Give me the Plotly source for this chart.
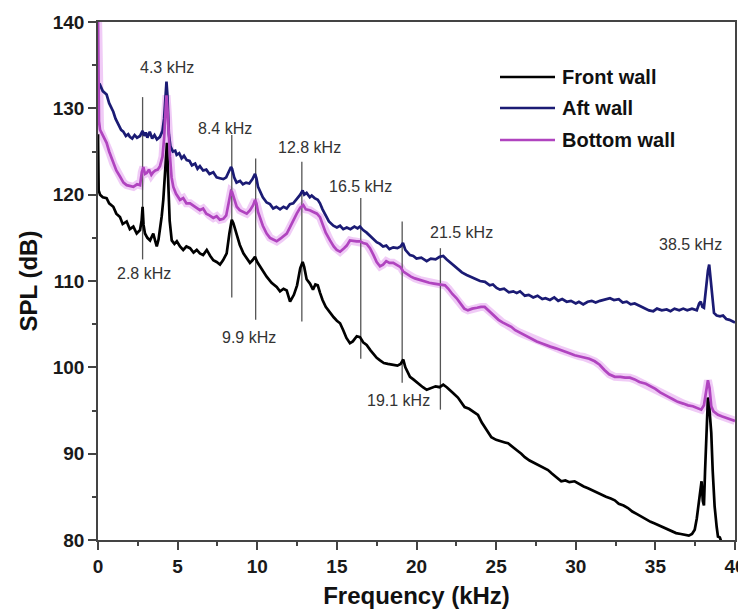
import plotly.graph_objects as go

# ---- spectra (frequency in kHz, SPL in dB) ----
front_f = [0.0, 0.04, 0.13, 0.3, 0.54, 0.7, 0.96, 1.15, 1.38, 1.55, 1.8, 2.0, 2.22, 2.43, 2.64, 2.74, 2.8, 2.86,
           2.95, 3.1, 3.27, 3.47, 3.6, 3.69, 3.8, 3.89, 4.0, 4.1, 4.2, 4.28, 4.33, 4.4, 4.5, 4.63, 4.8, 4.95, 5.15,
           5.35, 5.55, 5.78, 6.0, 6.2, 6.4, 6.6, 6.83, 7.05, 7.24, 7.45, 7.66, 7.85, 8.08, 8.25, 8.4, 8.5, 8.71,
           8.9, 9.13, 9.35, 9.54, 9.7, 9.86, 10.0, 10.17, 10.4, 10.59, 10.9, 11.22, 11.43, 11.65, 11.85, 12.06,
           12.3, 12.5, 12.7, 12.85, 12.95, 13.1, 13.31, 13.5, 13.65, 13.8, 13.95, 14.1, 14.3, 14.57, 14.8, 15.0,
           15.2, 15.4, 15.6, 15.82, 16.0, 16.25, 16.45, 16.65, 16.87, 17.1, 17.3, 17.5, 17.71, 17.95, 18.2, 18.54,
           18.8, 19.0, 19.17, 19.3, 19.59, 19.8, 20.1, 20.4, 20.64, 20.9, 21.2, 21.45, 21.68, 21.9, 22.1, 22.31,
           22.6, 22.85, 23.02, 23.3, 23.6, 23.86, 24.1, 24.4, 24.7, 25.0, 25.3, 25.55, 25.75, 26.0, 26.3, 26.58,
           26.8, 27.1, 27.42, 27.7, 28.0, 28.26, 28.5, 28.8, 29.09, 29.35, 29.6, 29.93, 30.2, 30.5, 30.77, 31.0,
           31.3, 31.6, 31.9, 32.2, 32.45, 32.7, 33.0, 33.28, 33.55, 33.85, 34.12, 34.4, 34.7, 34.96, 35.2, 35.5,
           35.79, 36.05, 36.3, 36.6, 36.84, 37.1, 37.3, 37.47, 37.6, 37.72, 37.82, 37.9, 37.98, 38.05, 38.12, 38.2,
           38.3, 38.38, 38.45, 38.51, 38.6, 38.72, 38.85, 38.93, 39.05, 39.14, 39.25, 39.5]
front_db = [127.0, 120.5, 120.0, 119.7, 119.6, 119.0, 118.6, 117.8, 117.4, 116.6, 116.9, 116.0, 116.3, 115.5, 115.9,
            117.0, 118.6, 116.5, 115.5, 115.0, 114.7, 115.5, 114.6, 114.0, 114.8, 115.9, 117.5, 119.4, 122.5, 125.8,
            126.0, 122.0, 117.0, 114.7, 114.3, 114.6, 114.0, 113.6, 114.0, 113.8, 113.3, 113.6, 113.2, 113.0, 113.6,
            112.9, 112.4, 112.2, 111.9, 112.4, 113.2, 115.5, 117.1, 116.7, 115.5, 114.2, 113.2, 112.6, 112.1, 112.4,
            112.8, 112.2, 111.7, 111.0, 110.5, 109.8, 109.3, 108.8, 109.1, 108.9, 107.6, 108.4, 109.5, 111.5, 112.2,
            111.6, 110.2, 109.7, 109.0, 109.6, 109.5, 108.6, 107.8, 107.0, 106.3, 105.8, 105.4, 105.1, 104.3, 103.4,
            102.8, 103.0, 103.6, 103.5, 102.9, 102.6, 102.0, 101.5, 101.1, 100.8, 100.5, 100.4, 100.3, 100.2, 100.4,
            100.9, 100.0, 98.9, 98.6, 98.1, 97.7, 97.4, 97.6, 97.8, 97.7, 98.0, 97.7, 97.4, 97.0, 96.5, 95.8, 95.4,
            95.2, 94.8, 94.5, 93.6, 92.7, 91.9, 91.6, 91.4, 91.3, 91.2, 90.8, 90.4, 90.0, 89.6, 89.2, 88.9, 88.6,
            88.3, 88.1, 87.7, 87.2, 86.8, 86.9, 86.7, 86.8, 86.5, 86.2, 86.0, 85.8, 85.5, 85.2, 85.0, 84.8, 84.6,
            84.2, 84.0, 83.7, 83.3, 83.0, 82.7, 82.4, 82.1, 81.9, 81.7, 81.4, 81.2, 81.0, 80.8, 80.7, 80.6, 80.5,
            80.7, 81.2, 82.5, 84.5, 86.2, 86.8, 84.5, 84.0, 88.0, 93.1, 96.5, 95.5, 94.2, 92.4, 88.0, 83.9, 81.5,
            80.4, 80.3, 79.8, 78.5, 77.5]

aft_f = [0.0, 0.13, 0.3, 0.54, 0.7, 0.96, 1.1, 1.28, 1.45, 1.59, 1.75, 1.9, 2.0, 2.15, 2.3, 2.45, 2.64, 2.8, 2.9,
         3.0, 3.1, 3.25, 3.4, 3.55, 3.7, 3.89, 4.05, 4.15, 4.25, 4.3, 4.36, 4.45, 4.55, 4.7, 4.85, 4.94, 5.1, 5.25,
         5.4, 5.57, 5.75, 5.9, 6.1, 6.25, 6.4, 6.6, 6.8, 7.0, 7.24, 7.45, 7.65, 7.87, 8.05, 8.2, 8.35, 8.42, 8.55,
         8.7, 8.92, 9.1, 9.3, 9.5, 9.7, 9.86, 9.95, 10.05, 10.17, 10.35, 10.59, 10.8, 11.0, 11.2, 11.43, 11.65,
         11.85, 12.05, 12.26, 12.5, 12.7, 12.85, 12.95, 13.1, 13.3, 13.42, 13.6, 13.8, 13.94, 14.1, 14.3, 14.5,
         14.78, 15.0, 15.2, 15.4, 15.62, 15.85, 16.1, 16.3, 16.45, 16.65, 16.87, 17.1, 17.3, 17.5, 17.71, 17.9,
         18.1, 18.3, 18.54, 18.8, 19.0, 19.15, 19.3, 19.59, 19.8, 20.0, 20.3, 20.64, 20.9, 21.2, 21.45, 21.68,
         21.9, 22.1, 22.31, 22.6, 22.85, 23.15, 23.4, 23.7, 23.99, 24.3, 24.6, 24.8, 25.03, 25.24, 25.5, 25.8,
         26.08, 26.29, 26.5, 26.8, 27.05, 27.33, 27.6, 27.9, 28.1, 28.38, 28.65, 28.9, 29.15, 29.43, 29.7, 30.0,
         30.2, 30.47, 30.75, 31.0, 31.25, 31.52, 31.8, 32.0, 32.15, 32.4, 32.7, 32.95, 33.2, 33.45, 33.7, 34.03,
         34.3, 34.6, 34.87, 35.1, 35.4, 35.71, 35.95, 36.2, 36.5, 36.75, 37.0, 37.3, 37.6, 37.75, 37.85, 37.95,
         38.05, 38.15, 38.22, 38.3, 38.38, 38.45, 38.53, 38.6, 38.68, 38.85, 39.06, 39.25, 39.45, 39.65, 39.9, 40.0]
aft_db = [132.5, 132.7, 132.0, 131.6, 130.6, 129.6, 128.8, 128.2, 127.5, 127.3, 126.8, 127.0, 126.7, 126.5, 126.9,
          126.6, 126.8, 127.4, 126.8, 127.2, 126.6, 127.3, 126.5, 126.9, 126.4, 126.7, 127.4, 128.8, 132.0, 133.1,
          131.5, 127.0, 125.6, 125.0, 125.1, 124.6, 124.8, 124.2, 124.5, 124.0, 123.9, 123.4, 123.6, 123.0, 123.3,
          122.8, 122.9, 122.4, 122.6, 122.0, 121.9, 121.8, 122.0, 122.6, 123.2, 123.0, 122.0, 121.4, 121.6, 121.2,
          121.4, 121.3, 121.8, 122.4, 121.9, 120.9, 120.4, 119.7, 119.1, 118.9, 118.4, 118.6, 118.3, 118.6, 118.4,
          118.9, 119.0, 119.5, 120.0, 120.5, 120.0, 120.2, 119.7, 119.9, 119.6, 119.4, 119.0, 118.3, 117.5, 116.9,
          116.4, 116.2, 116.4, 116.0, 116.2, 116.0, 116.3, 116.1, 116.3, 115.9, 115.6, 115.2, 114.8, 114.5, 114.3,
          114.0, 114.1, 113.7, 113.9, 113.8, 114.0, 114.4, 113.6, 113.0, 112.9, 112.6, 112.7, 112.3, 112.6, 112.5,
          112.8, 112.9, 112.5, 112.2, 111.9, 111.4, 111.0, 110.7, 110.5, 110.3, 110.0, 109.9, 109.5, 109.6, 109.2,
          109.0, 109.1, 108.7, 108.8, 108.6, 108.8, 108.3, 108.4, 108.1, 108.3, 107.9, 108.0, 107.8, 108.1, 107.7,
          107.9, 107.6, 107.7, 107.4, 107.6, 107.3, 107.6, 107.7, 107.5, 107.7, 107.8, 107.9, 108.0, 107.8, 107.9,
          107.5, 107.6, 107.3, 107.4, 107.1, 106.9, 106.6, 106.5, 106.8, 106.6, 106.7, 106.5, 106.8, 106.6, 106.8,
          106.6, 106.8, 106.6, 107.4, 107.6, 107.0, 106.9, 108.5, 110.3, 111.2, 111.9, 110.5, 109.3, 107.5, 106.3,
          106.0, 105.9, 106.0, 105.6, 105.5, 105.3, 105.2]

bottom_f = [0.0, 0.06, 0.13, 0.3, 0.54, 0.7, 0.96, 1.15, 1.38, 1.6, 1.8, 2.0, 2.22, 2.45, 2.64, 2.75, 2.85, 2.95,
            3.06, 3.2, 3.35, 3.47, 3.6, 3.75, 3.89, 4.05, 4.15, 4.25, 4.3, 4.36, 4.45, 4.52, 4.62, 4.73, 4.9, 5.15,
            5.35, 5.55, 5.78, 6.0, 6.2, 6.4, 6.6, 6.8, 7.0, 7.24, 7.45, 7.65, 7.87, 8.05, 8.2, 8.35, 8.42, 8.55, 8.71,
            8.9, 9.1, 9.34, 9.55, 9.75, 9.86, 9.95, 10.05, 10.17, 10.35, 10.59, 10.8, 11.0, 11.22, 11.45, 11.65,
            11.85, 12.05, 12.25, 12.48, 12.7, 12.89, 13.05, 13.3, 13.52, 13.75, 13.94, 14.1, 14.3, 14.57, 14.8,
            14.99, 15.2, 15.45, 15.62, 15.82, 16.05, 16.24, 16.45, 16.65, 16.87, 17.08, 17.3, 17.5, 17.71, 17.9,
            18.1, 18.3, 18.54, 18.8, 19.0, 19.17, 19.4, 19.65, 19.9, 20.22, 20.5, 20.8, 21.1, 21.45, 21.79, 22.0,
            22.25, 22.52, 22.8, 23.0, 23.23, 23.5, 23.8, 24.05, 24.28, 24.5, 24.7, 24.91, 25.15, 25.4, 25.7, 25.95,
            26.2, 26.5, 26.75, 27.0, 27.25, 27.55, 27.84, 28.1, 28.4, 28.75, 29.09, 29.4, 29.65, 29.93, 30.2, 30.5,
            30.85, 31.19, 31.5, 31.8, 32.1, 32.45, 32.8, 33.1, 33.4, 33.7, 34.0, 34.4, 34.75, 35.0, 35.3, 35.55,
            35.79, 36.1, 36.4, 36.75, 37.05, 37.35, 37.6, 37.88, 38.05, 38.2, 38.3, 38.4, 38.51, 38.65, 38.93, 39.2,
            39.5, 39.87, 40.0]
bottom_db = [141.0, 128.5, 127.5, 126.8, 126.0, 125.0, 123.6, 122.8, 122.1, 121.4, 121.1, 121.0, 120.9, 121.2, 121.1,
             122.6, 123.2, 122.4, 122.5, 122.9, 122.3, 122.6, 122.8, 122.9, 123.3, 124.4, 126.5, 130.0, 131.5, 130.0,
             126.0, 124.4, 122.0, 120.9, 120.1, 119.4, 119.6, 119.0, 119.0, 118.7, 118.4, 118.2, 118.4, 117.8, 117.6,
             117.3, 117.5, 117.1, 117.2, 117.6, 119.0, 120.4, 120.3, 119.4, 118.6, 118.2, 118.0, 117.8, 118.2, 118.8,
             119.4, 119.0, 118.0, 117.4, 116.4, 115.5, 115.0, 114.8, 114.6, 114.9, 115.2, 115.5, 116.2, 117.0, 117.8,
             118.5, 118.8, 118.3, 118.2, 118.0, 117.8, 117.4, 116.6, 115.6, 114.7, 114.0, 113.6, 113.4, 113.8, 114.1,
             114.7, 114.6, 114.6, 114.6, 114.4, 114.3, 113.8, 113.0, 112.2, 111.7, 111.9, 112.3, 112.1, 112.1, 111.8,
             111.6, 111.1, 110.8, 110.5, 110.3, 110.1, 110.0, 109.8, 109.7, 109.6, 109.5, 109.1, 108.5, 108.0, 107.3,
             106.8, 106.6, 106.8, 106.9, 107.0, 107.0, 106.6, 106.2, 105.9, 105.5, 105.2, 104.9, 104.7, 104.3, 104.0,
             103.8, 103.5, 103.3, 103.0, 102.8, 102.6, 102.4, 102.2, 102.0, 101.8, 101.6, 101.4, 101.3, 101.2, 101.0,
             100.7, 100.3, 99.7, 99.2, 98.9, 98.9, 98.8, 98.8, 98.6, 98.3, 98.1, 97.8, 97.5, 97.1, 96.8, 96.6, 96.3,
             96.0, 95.8, 95.6, 95.5, 95.3, 95.1, 95.6, 97.2, 98.5, 97.6, 95.5, 94.9, 94.5, 94.3, 94.1, 93.9, 93.8]

# ---- peak markers: frequency (kHz), vertical extent of each marker line (dB) ----
peak_khz = [2.8, 8.4, 9.9, 12.8, 16.5, 19.1, 21.5]
peak_top_db = [131.3, 126.9, 124.2, 123.8, 119.6, 116.9, 113.8]
peak_bottom_db = [112.5, 108.1, 105.5, 105.3, 101.0, 98.2, 95.1]

# ---- peak labels ----
label_text = ["4.3 kHz", "8.4 kHz", "12.8 kHz", "16.5 kHz", "2.8 kHz", "9.9 kHz", "19.1 kHz", "21.5 kHz", "38.5 kHz"]
label_x = [4.36, 7.97, 13.25, 16.5, 2.89, 9.48, 18.84, 22.8, 37.2]
label_y = [134.7, 127.7, 125.5, 120.9, 110.9, 103.4, 96.2, 115.6, 114.2]

series_names = ["Front wall", "Aft wall", "Bottom wall"]
series_colors = ["#000000", "#1b1b74", "#b044bf"]
series_f = [front_f, aft_f, bottom_f]
series_db = [front_db, aft_db, bottom_db]

FONT = "Liberation Sans, Arial, sans-serif"
W, H = 738, 615
ML, MR, MT, MB = 98, 3, 22, 75

fig = go.Figure()

# soft glow under the bottom-wall trace
fig.add_trace(go.Scatter(x=bottom_f, y=bottom_db, mode="lines", showlegend=False, hoverinfo="skip",
                         line=dict(color="rgba(222,140,236,0.45)", width=8)))

# marker lines at the identified peaks
mx, my = [], []
for f, t, b in zip(peak_khz, peak_top_db, peak_bottom_db):
    mx += [f, f, None]
    my += [t, b, None]
fig.add_trace(go.Scatter(x=mx, y=my, mode="lines", showlegend=False, hoverinfo="skip",
                         line=dict(color="#555555", width=1.3)))

# front wall first, then aft wall, bottom wall on top
for name, fx, dbv, col in zip(series_names, series_f, series_db, series_colors):
    fig.add_trace(go.Scatter(x=fx, y=dbv, mode="lines", name=name, showlegend=False,
                             line=dict(color=col, width=2.7)))

for t, x, y in zip(label_text, label_x, label_y):
    fig.add_annotation(x=x, y=y, text=t, showarrow=False, xref="x", yref="y",
                       font=dict(family=FONT, size=16, color="#333333"))


def px_to_paper(px, py):
    return (px - ML) / (W - ML - MR), (H - MB - py) / (H - MT - MB)


# legend drawn as line samples with bold labels
legend_rows_py = [77, 108, 140]
for name, col, py in zip(series_names, series_colors, legend_rows_py):
    x0, y0 = px_to_paper(500, py)
    x1, _ = px_to_paper(555, py)
    fig.add_shape(type="line", xref="paper", yref="paper", x0=x0, x1=x1, y0=y0, y1=y0,
                  line=dict(color=col, width=2.6))
    xt, _ = px_to_paper(560, py)
    fig.add_annotation(xref="paper", yref="paper", x=xt, y=y0, text=name, showarrow=False,
                       xanchor="left", yanchor="middle",
                       font=dict(family=FONT, size=20, color="#111111", weight="bold"))

axis_common = dict(showline=True, linecolor="#444444", linewidth=1.5, mirror=True,
                   ticks="outside", ticklen=8, tickwidth=1.5, tickcolor="#444444",
                   showgrid=False, zeroline=False, ticklabeloverflow="allow",
                   tickfont=dict(family=FONT, size=19, color="#1a1a1a", weight="bold"))

fig.update_xaxes(range=[0, 40], dtick=5, tick0=0,
                 minor=dict(ticks="outside", ticklen=4, tickwidth=1.5, tickcolor="#444444", dtick=2.5),
                 title=dict(text="Frequency (kHz)", standoff=12,
                            font=dict(family=FONT, size=24, color="#111111", weight="bold")),
                 **axis_common)
fig.update_yaxes(range=[80, 140], dtick=10, tick0=80,
                 minor=dict(ticks="outside", ticklen=4, tickwidth=1.5, tickcolor="#444444", dtick=5),
                 title=dict(text="SPL (dB)", standoff=8,
                            font=dict(family=FONT, size=24, color="#111111", weight="bold")),
                 **axis_common)

fig.update_layout(width=W, height=H, margin=dict(l=ML, r=MR, t=MT, b=MB, autoexpand=False),
                  paper_bgcolor="white", plot_bgcolor="white", showlegend=False)

fig.write_html("out.html")
